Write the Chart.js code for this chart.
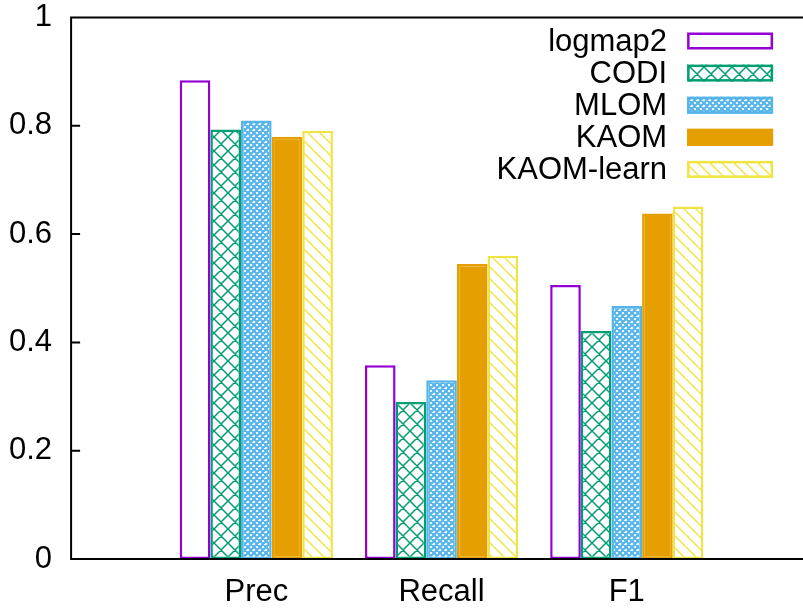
<!DOCTYPE html>
<html lang="en">
<head>
    <meta charset="utf-8">
    <title>Prec / Recall / F1</title>

    <!--chart.js-->
    <script src="https://cdnjs.cloudflare.com/ajax/libs/Chart.js/4.4.1/chart.umd.min.js"></script>

    <style>
        html, body {
            margin: 0;
            padding: 0;
            background: #ffffff;
            overflow: hidden;
        }

        /* canvas is a bit bigger than the window: the right border falls outside, as in the original */
        #wrap {
            width: 840px;
            height: 643px;
            margin-left: -10px;
            margin-top: -17px;
        }
    </style>
</head>

<body>
    <div id="wrap">
        <canvas id="gr" width="840" height="643"></canvas>
    </div>

    <script>
        // data
        const categories = ["Prec", "Recall", "F1"];
        const seriesNames = ["logmap2", "CODI", "MLOM", "KAOM", "KAOM-learn"];
        const logmap2 = [0.884, 0.358, 0.506];
        const codi = [0.793, 0.290, 0.421];
        const mlom = [0.810, 0.330, 0.467];
        const kaom = [0.780, 0.545, 0.638];
        const kaomLearn = [0.791, 0.560, 0.651];
        const yTicks = [0, 0.2, 0.4, 0.6, 0.8, 1];

        const FONT = "'Liberation Sans', Arial, Helvetica, sans-serif";
        const FSIZE = 31;

        // gnuplot-like fill patterns
        function makePattern(color, size, lineWidth, dirs) {
            var c = document.createElement("canvas");
            c.width = size;
            c.height = size;
            var g = c.getContext("2d");
            g.fillStyle = "#ffffff";
            g.fillRect(0, 0, size, size);
            g.strokeStyle = color;
            g.lineWidth = lineWidth;
            g.beginPath();
            for (var k = -1; k <= 1; ++k) {
                if (dirs.indexOf("\\") >= 0) {
                    g.moveTo(k * size, 0);
                    g.lineTo(k * size + size, size);
                }
                if (dirs.indexOf("/") >= 0) {
                    g.moveTo(k * size, size);
                    g.lineTo(k * size + size, 0);
                }
            }
            g.stroke();
            return g.createPattern(c, "repeat");
        }

        const colors = ["#9400d3", "#009e73", "#56b4e9", "#e69f00", "#f0e442"];
        const fills = [
            "#ffffff",
            makePattern(colors[1], 14, 1.5, "\\/"),
            makePattern(colors[2], 6, 2.2, "\\/"),
            colors[3],
            makePattern(colors[4], 12, 1.5, "\\")
        ];
        const values = [logmap2, codi, mlom, kaom, kaomLearn];

        // empty slots at both ends so the category axis runs from -1 to 3
        const labels = [""].concat(categories, [""]);

        var datasets = [];
        for (var i = 0; i < values.length; ++i) {
            datasets.push({
                label: seriesNames[i],
                data: [null].concat(values[i], [null]),
                backgroundColor: fills[i],
                borderColor: colors[i],
                borderWidth: 2.5,
                borderSkipped: false,
                barPercentage: 1.0,
                categoryPercentage: 0.827
            });
        }

        // border (left, top, bottom; the right side is off the picture) + inward y tics
        const framePlugin = {
            id: "frame",
            afterDraw(chart) {
                var ctx = chart.ctx;
                var a = chart.chartArea;
                var ys = chart.scales.y;
                ctx.save();
                ctx.strokeStyle = "#000000";
                ctx.lineWidth = 2;
                ctx.beginPath();
                ctx.moveTo(a.right + 5, a.top);
                ctx.lineTo(a.left, a.top);
                ctx.lineTo(a.left, a.bottom);
                ctx.lineTo(a.right + 5, a.bottom);
                for (var i = 0; i < ys.ticks.length; ++i) {
                    var y = ys.getPixelForTick(i);
                    ctx.moveTo(a.left, y);
                    ctx.lineTo(a.left + 9, y);
                }
                ctx.stroke();
                ctx.restore();
            }
        };

        // key in the upper right: text on the left, sample box on the right
        const keyPlugin = {
            id: "key",
            afterDraw(chart) {
                var ctx = chart.ctx;
                var a = chart.chartArea;
                var textRight = a.left + 596, boxLeft = a.left + 616, boxW = 86, boxH = 17;
                var top = a.top + 15, step = 32.1;
                ctx.save();
                ctx.font = FSIZE + "px " + FONT;
                ctx.textAlign = "right";
                ctx.textBaseline = "middle";
                chart.data.datasets.forEach((ds, i) => {
                    var y = top + i * step;
                    ctx.fillStyle = "#000000";
                    ctx.fillText(ds.label, textRight, y + boxH / 2 + 1);
                    ctx.fillStyle = ds.backgroundColor;
                    ctx.fillRect(boxLeft, y, boxW, boxH);
                    ctx.strokeStyle = ds.borderColor;
                    ctx.lineWidth = 2.5;
                    ctx.strokeRect(boxLeft + 1.25, y + 1.25, boxW - 2.5, boxH - 2.5);
                });
                ctx.restore();
            }
        };

        var drawg = document.getElementById("gr").getContext("2d");
        var outputChart = new Chart(drawg, {
            type: "bar",
            data: {
                labels: labels,
                datasets: datasets
            },
            options: {
                responsive: false,
                animation: false,
                layout: {
                    padding: 0
                },
                plugins: {
                    legend: { display: false },
                    tooltip: { enabled: false }
                },
                scales: {
                    x: {
                        offset: false,
                        grid: { display: false, drawTicks: false },
                        border: { display: false },
                        ticks: {
                            autoSkip: false,
                            maxRotation: 0,
                            padding: 18,
                            color: "#000000",
                            font: { family: FONT, size: FSIZE, lineHeight: 1 }
                        }
                    },
                    y: {
                        min: 0,
                        max: 1,
                        afterBuildTicks(scale) {
                            scale.ticks = yTicks.map(v => ({ value: v }));
                        },
                        grid: { display: false, drawTicks: false },
                        border: { display: false },
                        ticks: {
                            padding: 19,
                            color: "#000000",
                            font: { family: FONT, size: FSIZE, lineHeight: 1 },
                            callback: v => String(v)
                        }
                    }
                }
            },
            plugins: [framePlugin, keyPlugin]
        });
    </script>
</body>
</html>
